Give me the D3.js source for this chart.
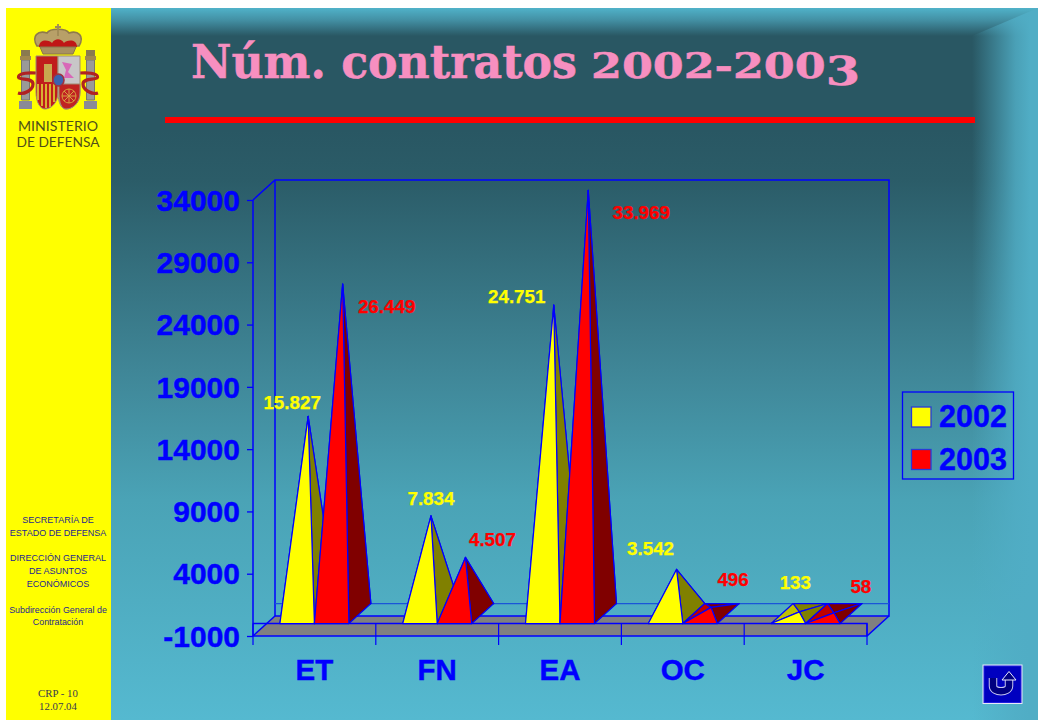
<!DOCTYPE html>
<html lang="es">
<head>
<meta charset="utf-8">
<title>Núm. contratos 2002-2003</title>
<script src="https://cdn.jsdelivr.net/npm/d3@7/dist/d3.min.js"></script>
<style>
html,body{margin:0;padding:0;background:#fff;overflow:hidden}
svg{display:block}
text{font-family:"Liberation Sans",Arial,sans-serif}
</style>
</head>
<body>
<div id="chart"></div>
<script>
// ---- data ----
const categories = ["ET", "FN", "EA", "OC", "JC"];
const seriesNames = ["2002", "2003"];
const values2002 = [15827, 7834, 24751, 3542, 133];
const values2003 = [26449, 4507, 33969, 496, 58];
const valueLabels2002 = ["15.827", "7.834", "24.751", "3.542", "133"];
const valueLabels2003 = ["26.449", "4.507", "33.969", "496", "58"];
const yTicks = [-1000, 4000, 9000, 14000, 19000, 24000, 29000, 34000];
const sideBlockA = ["SECRETARÍA DE", "ESTADO DE DEFENSA"];
const sideBlockB = ["DIRECCIÓN GENERAL", "DE ASUNTOS", "ECONÓMICOS"];
const sideBlockC = ["Subdirección General de", "Contratación"];
const sideBlockD = ["CRP - 10", "12.07.04"];

// ---- layout ----
const W = 1038, H = 720;
const labelOffset2002 = [[-16,-13],[0,-17],[-37,-8],[-26,-20],[-4,-29]];
const labelOffset2003 = [[44,23],[27,-17],[53,23],[22,-27],[27,-26]];
const depth = {x: 22, y: -20};
const BLUE = "#0000ff";
const svg = d3.select("#chart").append("svg").attr("width", W).attr("height", H).attr("viewBox", `0 0 ${W} ${H}`);
const defs = svg.append("defs");

const bgGrad = defs.append("linearGradient").attr("id","bg").attr("gradientUnits","userSpaceOnUse")
  .attr("x1",0).attr("x2",0).attr("y1",8).attr("y2",720);
[[8,"#50b2c9"],[20,"#4390a4"],[36,"#295763"],[130,"#295763"],[180,"#2b5c68"],[370,"#3f8697"],[500,"#4aa3b6"],[720,"#55b9d0"]]
  .forEach(([yy,c])=>bgGrad.append("stop").attr("offset",(yy-8)/712).attr("stop-color",c));
const rGrad = defs.append("linearGradient").attr("id","rf").attr("gradientUnits","userSpaceOnUse")
  .attr("x1",972).attr("x2",1030).attr("y1",0).attr("y2",0);
[[0,0],[0.4,0.45],[0.75,0.85],[1,1]].forEach(([o,a])=>rGrad.append("stop").attr("offset",o).attr("stop-color","#50adc5").attr("stop-opacity",a));
defs.append("filter").attr("id","soft").append("feGaussianBlur").attr("stdDeviation",0.55);

// slide background
svg.append("rect").attr("x",6).attr("y",8).attr("width",W-6).attr("height",H-8).attr("fill","url(#bg)");
svg.append("path").attr("d","M972,36L1038,8V720H972Z").attr("fill","url(#rf)");
svg.append("rect").attr("x",6).attr("y",8).attr("width",105).attr("height",H-8).attr("fill","#ffff00");

// emblem
const em = svg.append("g").attr("filter","url(#soft)");
const shape = (d,f,s,w)=>em.append("path").attr("d",d).attr("fill",f||"none").attr("stroke",s||"none").attr("stroke-width",w||0);
// columns
[[25.5,0],[90.5,0]].forEach(([cx])=>{
  shape(`M${cx-4},60H${cx+4}V100H${cx-4}Z`,"#9a9a98","#77776a",1);
  shape(`M${cx-5.5},56H${cx+5.5}V60H${cx-5.5}Z`,"#a08850");
  shape(`M${cx-4.5},50H${cx+4.5}V56H${cx-4.5}Z`,"#8a7a50");
  shape(`M${cx-6.5},101H${cx+6.5}V109H${cx-6.5}Z`,"#8a8a96");
});
// ribbons
shape("M18,93C24,95 33,90 33,84C33,78 22,80 19,78C17,76 20,72 36,73","none","#b02020",3.2);
shape("M98,93C92,95 83,90 83,84C83,78 94,80 97,78C99,76 96,72 80,73","none","#b02020",3.2);
// crown
shape("M37,46C31,36 38,30 47,33C50,28 66,28 69,33C78,30 85,36 79,46Z","#b8a068","#8f7a4c",1.6);
shape("M39,47C39,38 50,40 52,43C55,38 61,38 64,43C66,40 77,38 77,47Z","#c01818");
shape("M40,47H76L73,54H43Z","#a89060","#8a7448",1);
shape("M58,24V36M55,27H61","none","#a08a58",1.8);
// shield
shape("M36,56H58V92C58,104 50,109 45,109C40,109 36,102 36,92Z","#c01c1c","#a08a70",1);
shape("M58,56H80V92C80,104 72,109 66,109C62,109 58,104 58,92Z","#c8c6c8","#a08a70",1);
shape("M42,84V106M46,84V108M50,84V107M54,84V102M38,84V100","none","#d8b030",2);
shape("M44,64H52V82H44Z","#c8a850");
shape("M62,62L72,64L68,72L74,78L64,78L66,70Z","#d868b8");
shape("M59,84H80V92C80,104 72,109 66,109C62,109 59,104 59,92Z","#c02020","#a08a70",1);
shape("M62,96a7,7 0 1,0 14,0a7,7 0 1,0 -14,0M69,89V103M62,96H76M64,91L74,101M74,91L64,101","none","#d8a040",1);
shape("M53,80a5.5,6 0 1,0 11,0a5.5,6 0 1,0 -11,0","#3a62b0","#a03040",1.6);

// side texts
const centerX = 58;
const emText = (t,yy,len)=>svg.append("text").attr("x",centerX).attr("y",yy).attr("text-anchor","middle")
  .attr("textLength",len).attr("lengthAdjust","spacingAndGlyphs")
  .style("font-family","Lato,sans-serif").style("font-size","13px").attr("fill","#50501a").text(t);
emText("MINISTERIO",131,80);
emText("DE DEFENSA",146.7,83);
const sideLines = (arr,y0,step,fam,fill,size)=>arr.forEach((t,i)=>svg.append("text").attr("x",centerX).attr("y",y0+i*step)
  .attr("text-anchor","middle").style("font-family",fam).style("font-size",size+"px").attr("fill",fill).text(t));
const sans = "'Liberation Sans',sans-serif", serif = "'Liberation Serif',serif";
sideLines(sideBlockA,522.5,13,sans,"#1f1f90",9);
sideLines(sideBlockB,560.5,13,sans,"#1f1f90",9);
sideLines(sideBlockC,612.5,12.5,sans,"#1f1f90",8.9);
sideLines(sideBlockD,697,13,serif,"#3a3a50",10.8);

// title
const titleAttrs = sel=>sel.attr("y",78).attr("fill","#f78fc0").attr("stroke","#f78fc0").attr("stroke-width",0.5)
  .attr("lengthAdjust","spacingAndGlyphs").style("font-family","'DejaVu Serif',serif").style("font-weight","bold");
svg.append("text").attr("x",191).attr("textLength",386).style("font-size","47px").call(titleAttrs).text("Núm. contratos");
const titleYears = svg.append("text").attr("x",591).attr("textLength",269).style("font-size","36px").call(titleAttrs);
titleYears.append("tspan").text("2002-200");
titleYears.append("tspan").style("font-size","40px").attr("dy",7).text("3");
svg.append("rect").attr("x",165).attr("y",117).attr("width",810).attr("height",6).attr("fill","#ff0000");

// ---- chart ----
const y = d3.scaleLinear().domain([-1000,34000]).range([636,200]);
const x = d3.scaleBand().domain(categories).range([253,867]).paddingInner(0).paddingOuter(0);
const seriesBand = d3.scaleBand().domain(seriesNames).range([0,x.bandwidth()]).paddingInner(0).paddingOuter(0.78);
const g = svg.append("g");
const pt = (px,py,d)=>[px+depth.x*d, py+depth.y*d];
const line = d3.line();
const vMin = -1000, vMax = 34000;

// walls
g.append("path").attr("d",line([pt(253,y(vMin),0),pt(253,y(vMin),1),pt(867,y(vMin),1),pt(867,y(vMin),0)])+"Z")
  .attr("fill","#808080").attr("stroke","none");
const frameLine = (pts,w)=>g.append("path").attr("d",line(pts)).attr("fill","none").attr("stroke",BLUE).attr("stroke-width",w||1.5);
frameLine([pt(253,y(vMax),0),pt(253,y(vMax),1),pt(867,y(vMax),1),pt(867,y(vMin),1),pt(253,y(vMin),1),pt(253,y(vMax),1)]);
frameLine([pt(253,y(vMax),0),pt(253,y(vMin),0),pt(867,y(vMin),0),pt(867,y(vMin),1)]);
frameLine([pt(253,y(vMin),0),pt(253,y(vMin),1)]);
g.append("path").attr("d",line([pt(253,y(0),1),pt(867,y(0),1)])).attr("stroke","#1a55d8").attr("stroke-width",1.2).attr("fill","none");
frameLine([pt(253,y(0),0),pt(867,y(0),0),pt(867,y(vMin),0)]);

// axes
const yAxis = d3.axisLeft(y).tickValues(yTicks).tickSize(6).tickPadding(7).tickFormat(d=>String(d));
const ya = g.append("g").attr("transform","translate(253,0)").call(yAxis);
ya.select(".domain").remove();
ya.selectAll("line").attr("stroke",BLUE).attr("stroke-width",1.3);
ya.selectAll("text").attr("fill",BLUE).attr("stroke",BLUE).attr("stroke-width",0.4).style("font-family",sans).style("font-size","30px").style("font-weight","bold").attr("dy","0.34em");
const tickXs = categories.map(c=>x(c)).concat([867]);
tickXs.forEach(tx=>g.append("line").attr("x1",tx).attr("x2",tx).attr("y1",y(0)).attr("y2",645).attr("stroke",BLUE).attr("stroke-width",1.2));
const xAxis = d3.axisBottom(x).tickSize(0).tickPadding(0);
const xa = g.append("g").attr("transform","translate(0,645)").call(xAxis);
xa.select(".domain").remove();
xa.selectAll("text").attr("fill",BLUE).attr("stroke",BLUE).attr("stroke-width",0.4).attr("y",0).attr("dy","35px").style("font-family",sans).style("font-size","29.5px").style("font-weight","bold");

// pyramids
const palettes = {
  "2002": {front:"#ffff00", left:"#c0c000", right:"#808000", back:"#808000", label:"#ffff00"},
  "2003": {front:"#ff0000", left:"#c00000", right:"#800000", back:"#800000", label:"#ff0000"}
};
const face = (pts,f)=>g.append("path").attr("d",line(pts)+"Z").attr("fill",f).attr("stroke",BLUE).attr("stroke-width",1.2).attr("stroke-linejoin","round");
const labelItems = [];
categories.forEach((c,i)=>{
  [[ "2002",values2002,valueLabels2002,labelOffset2002],["2003",values2003,valueLabels2003,labelOffset2003]].forEach(([s,vals,txt,off])=>{
    const p = palettes[s], v = vals[i];
    const x0 = x(c)+seriesBand(s), x1 = x0+seriesBand.bandwidth(), b = y(0);
    const FL = pt(x0,b,0), FR = pt(x1,b,0), BR = pt(x1,b,1), BL = pt(x0,b,1);
    const A = pt((x0+x1)/2, y(v), 0.5);
    face([BL,BR,A],p.back);
    face([FL,BL,A],p.left);
    face([FR,BR,A],p.right);
    face([FL,FR,A],p.front);
    labelItems.push({t:txt[i],x:A[0]+off[i][0],y:A[1]+off[i][1],f:p.label});
  });
});
labelItems.forEach(l=>g.append("text").attr("x",l.x).attr("y",l.y).attr("dy","0.31em").attr("text-anchor","middle")
  .attr("fill",l.f).attr("stroke",l.f).attr("stroke-width",0.25).style("font-size","18.8px").style("font-weight","bold").text(l.t));

// legend
const lg = svg.append("g");
lg.append("rect").attr("x",902.5).attr("y",392).attr("width",111).attr("height",87).attr("fill","none").attr("stroke",BLUE).attr("stroke-width",1.3);
seriesNames.forEach((s,i)=>{
  const cy = 417+i*42.5;
  lg.append("rect").attr("x",911.5).attr("y",cy-10).attr("width",19.5).attr("height",20)
    .attr("fill",palettes[s].front).attr("stroke","#2a3ad8").attr("stroke-width",1.3);
  lg.append("text").attr("x",939).attr("y",cy).attr("dy","0.34em").attr("fill",BLUE).attr("stroke",BLUE).attr("stroke-width",0.4)
    .style("font-size","30.5px").style("font-weight","bold").text(s);
});

// return button
const rb = svg.append("g");
rb.append("rect").attr("x",982.5).attr("y",664.5).attr("width",40).attr("height",39.5).attr("fill","#e8e8f8");
rb.append("rect").attr("x",984).attr("y",666).attr("width",37).attr("height",36.5).attr("fill","#0000c0").attr("stroke","#2020e0").attr("stroke-width",1);
const uPath = "M993,678V686C993,693 1009,693 1009,686V679";
rb.append("path").attr("d",uPath).attr("fill","none").attr("stroke","#c8c8f0").attr("stroke-width",8.5);
rb.append("path").attr("d",uPath).attr("fill","none").attr("stroke","#000080").attr("stroke-width",6.5);
rb.append("path").attr("d","M1002,680L1009,671.5L1016,680Z").attr("fill","#000080").attr("stroke","#e8e8ff").attr("stroke-width",1);
</script>
</body>
</html>
